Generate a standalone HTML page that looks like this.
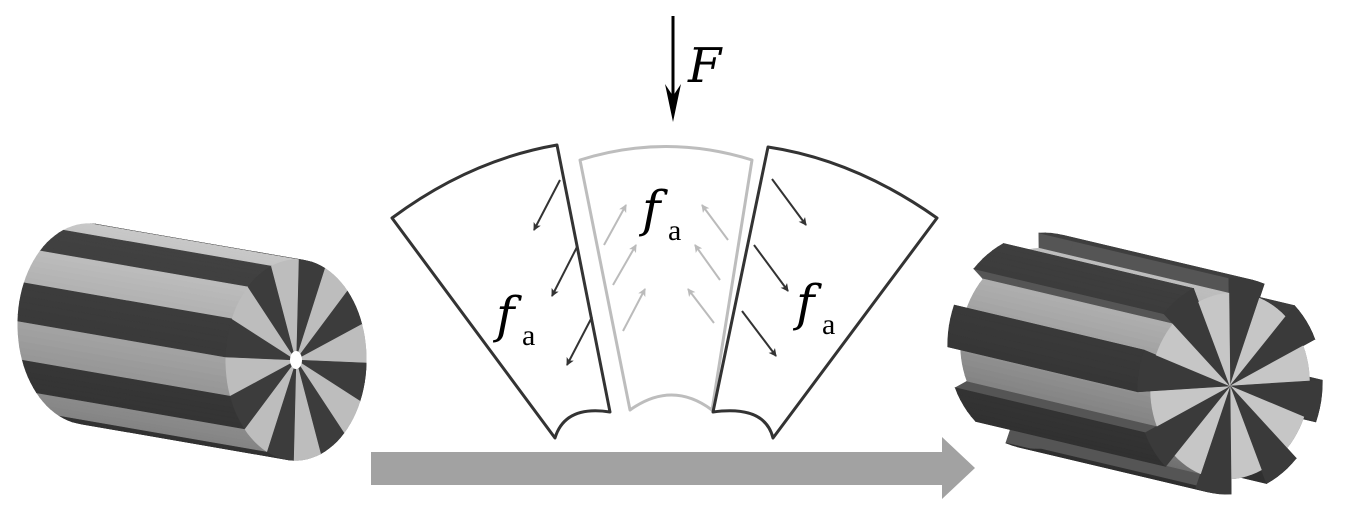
<!DOCTYPE html>
<html><head><meta charset="utf-8">
<style>
html,body{margin:0;padding:0;background:#fff;width:1346px;height:520px;overflow:hidden}
svg{display:block}
.lbl{font-family:"DejaVu Serif","Liberation Serif",serif;font-style:italic;fill:#000}
.sub{font-family:"Liberation Serif",serif;fill:#000}
</style></head><body>
<svg id="s" width="1346" height="520" viewBox="0 0 1346 520" xmlns="http://www.w3.org/2000/svg">
<defs>
<marker id="ad" markerWidth="8" markerHeight="8" refX="7" refY="4" orient="auto" markerUnits="userSpaceOnUse"><path d="M0,0 L8,4 L0,8 L2,4 z" fill="#333"/></marker>
<marker id="al" markerWidth="8" markerHeight="8" refX="7" refY="4" orient="auto" markerUnits="userSpaceOnUse"><path d="M0,0 L8,4 L0,8 L2,4 z" fill="#bbb"/></marker>
</defs>
<g id="cylL"></g>
<g id="cylR"></g>

<polygon points="371,452 942,452 942,437 975,468 942,499 942,485 371,485" fill="#a2a2a2"/>

<line x1="673" y1="16" x2="673" y2="100" stroke="#000" stroke-width="3"/>
<polygon points="665,84 673,122 681,84 673,96" fill="#000"/>
<text class="lbl" x="688" y="82" font-size="48">F</text>

<path d="M392,218 Q470,160 557,145 L610,412 Q565,405 555,438 L392,218 Z" fill="none" stroke="#333" stroke-width="3" stroke-linejoin="round"/>
<path d="M580,160 Q666,133 752,160 L712,410 Q672,380 630,410 Z" fill="none" stroke="#bdbdbd" stroke-width="3" stroke-linejoin="round"/>
<path d="M768,147 Q855,160 937,218 L773,438 Q765,405 713,412 Z" fill="none" stroke="#333" stroke-width="3" stroke-linejoin="round"/>

<g stroke="#333" stroke-width="2" marker-end="url(#ad)">
<line x1="560" y1="180" x2="534" y2="230"/>
<line x1="577" y1="247" x2="552" y2="296"/>
<line x1="592" y1="317" x2="567" y2="365"/>
<line x1="772" y1="179" x2="806" y2="225"/>
<line x1="754" y1="245" x2="788" y2="291"/>
<line x1="742" y1="311" x2="776" y2="356"/>
</g>
<g stroke="#bbb" stroke-width="2" marker-end="url(#al)">
<line x1="604" y1="245" x2="626" y2="205"/>
<line x1="613" y1="285" x2="636" y2="245"/>
<line x1="623" y1="331" x2="645" y2="289"/>
<line x1="728" y1="240" x2="702" y2="205"/>
<line x1="720" y1="280" x2="695" y2="245"/>
<line x1="714" y1="323" x2="688" y2="289"/>
</g>

<text class="lbl" x="642" y="226" font-size="50">f</text><text class="sub" x="668" y="240" font-size="30">a</text>
<text class="lbl" x="496" y="332" font-size="50">f</text><text class="sub" x="522" y="345" font-size="30">a</text>
<text class="lbl" x="796" y="320" font-size="50">f</text><text class="sub" x="822" y="334" font-size="30">a</text>
</svg>
<script>
(function(){
var NS="http://www.w3.org/2000/svg";
function poly(g,pts,fill){var p=document.createElementNS(NS,"polygon");p.setAttribute("points",pts.map(function(q){return q[0].toFixed(1)+","+q[1].toFixed(1)}).join(" "));p.setAttribute("fill",fill);p.setAttribute("stroke",fill);p.setAttribute("stroke-width","0.6");g.appendChild(p);}
function cyl(id,C,u,v,A,n,radii,off,faceCols,sideFn,wall,hole){
 var g=document.getElementById(id);
 function P(t,r){return [C[0]+r*(u[0]*Math.cos(t)+v[0]*Math.sin(t)),C[1]+r*(u[1]*Math.cos(t)+v[1]*Math.sin(t))];}
 function B(p){return [p[0]-A[0],p[1]-A[1]];}
 var items=[];
 for(var i=0;i<n;i++){
  var t1=off+2*Math.PI*i/n,t2=off+2*Math.PI*(i+1)/n,tm=(t1+t2)/2,r=radii[i%2];
  items.push({d:Math.cos(tm),i:i,a:P(t1,r),b:P(t2,r),tm:tm});
 }
 items.sort(function(x,y){return y.d-x.d;});
 var Cb=B(C);
 items.forEach(function(it){
  if(wall){poly(g,[C,it.a,B(it.a),Cb],wall);poly(g,[C,it.b,B(it.b),Cb],wall);}
  var segs=6;
  for(var k=0;k<segs;k++){
   var r=radii[it.i%2];
   var t1=off+2*Math.PI*(it.i+k/segs)/n,t2=off+2*Math.PI*(it.i+(k+1)/segs)/n;
   var a=P(t1,r),b=P(t2,r);
   poly(g,[a,b,B(b),B(a)],sideFn(it.i%2,(t1+t2)/2));
  }
 });
 for(var i=0;i<n;i++){
  var r=radii[i%2],pts=[C];
  for(var k=0;k<=6;k++){pts.push(P(off+2*Math.PI*(i+k/6)/n,r));}
  poly(g,pts,faceCols[i%2]);
 }
 if(hole){var c=document.createElementNS(NS,"ellipse");c.setAttribute("cx",C[0]);c.setAttribute("cy",C[1]);c.setAttribute("rx",hole[0]);c.setAttribute("ry",hole[1]);c.setAttribute("fill","#fff");g.appendChild(c);}
}
function shade(par,t){
 var s=Math.sin(t);
 if(par===0){var c=Math.round(58-8*s);return "rgb("+c+","+c+","+c+")";}
 var c=Math.round(165-35*s);return "rgb("+c+","+c+","+c+")";
}
cyl("cylL",[296,360],[70,8],[-6,100],[208,36],16,[1,1],-Math.PI/2-0.05,["#3c3c3c","#bdbdbd"],shade,null,[6,9]);
function shade2(par,t){
 var s=Math.sin(t);
 if(par===0){var c=Math.round(55-8*s);return "rgb("+c+","+c+","+c+")";}
 var c=Math.round(150-40*s);return "rgb("+c+","+c+","+c+")";
}
cyl("cylR",[1230,386],[92,5],[-8,108],[190,45],16,[1,0.86],-Math.PI/2-0.1,["#3a3a3a","#c6c6c6"],shade2,"#555",null);
})();
</script>
</body></html>
